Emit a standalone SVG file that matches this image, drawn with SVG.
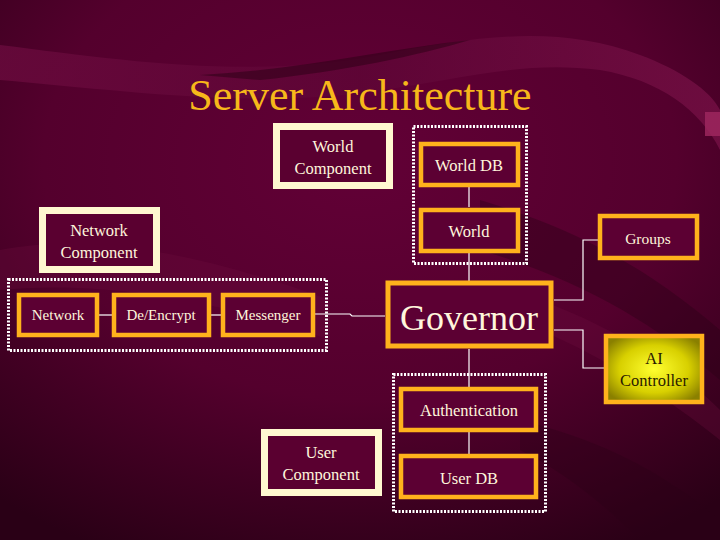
<svg xmlns="http://www.w3.org/2000/svg" width="720" height="540" viewBox="0 0 720 540">
<defs>
<radialGradient id="bg" cx="0.5" cy="0.3" r="0.8">
<stop offset="0" stop-color="#620036"/>
<stop offset="0.55" stop-color="#54002d"/>
<stop offset="1" stop-color="#2a0016"/>
</radialGradient>
<linearGradient id="band1" x1="0" y1="0" x2="1" y2="0">
<stop offset="0" stop-color="#6e0c40"/>
<stop offset="0.5" stop-color="#5e0636"/>
<stop offset="1" stop-color="#7a1248"/>
</linearGradient>
<radialGradient id="ai" cx="0.5" cy="0.5" r="0.6">
<stop offset="0" stop-color="#ffff30"/>
<stop offset="0.6" stop-color="#d8d000"/>
<stop offset="1" stop-color="#8a8000"/>
</radialGradient>
<style>
.comp{fill:#5a0030;stroke:#fff8d0;stroke-width:7}
.box{fill:#5c0033;stroke:#ffb21c;stroke-width:4.5}
.grp{fill:none;stroke:#ffffff;stroke-width:3;stroke-dasharray:2 1.5}
.c{fill:none;stroke:#ffffff;stroke-width:1.2}
</style>
</defs>
<rect width="720" height="540" fill="url(#bg)"/>
<path d="M0 45 C120 60 250 80 380 55 C480 35 560 25 640 55 C680 70 710 90 720 110 L720 150 C700 110 660 80 600 70 C520 60 460 80 380 90 C260 110 120 90 0 80 Z" fill="url(#band1)" opacity="0.7"/>
<path d="M200 75 C300 70 380 50 470 40 C420 55 340 72 260 80 Z" fill="#2a0014" opacity="0.5"/>
<path d="M0 250 C100 230 220 260 330 300 L330 340 C220 300 100 280 0 290 Z" fill="#6e0c40" opacity="0.3"/>
<path d="M480 200 C580 230 650 270 720 330 L720 380 C650 320 580 280 480 250 Z" fill="#2a0016" opacity="0.4"/>
<path d="M520 420 C600 440 660 470 720 520 L720 540 L640 540 C600 500 560 470 520 450 Z" fill="#2a0016" opacity="0.35"/>
<path d="M540 300 C620 330 680 370 720 410 L720 440 C670 400 610 360 540 330 Z" fill="#6e0c40" opacity="0.3"/>
<rect x="705" y="112" width="15" height="24" fill="#a02860" opacity="0.8"/>
<text x="360" y="110" font-family="Liberation Serif" font-size="44" fill="#f7b81a" text-anchor="middle">Server Architecture</text>
<g id="connectors">
<line class="c" x1="469" y1="187" x2="469" y2="207"/>
<line class="c" x1="469" y1="253" x2="469" y2="282"/>
<line class="c" x1="469" y1="349" x2="469" y2="387"/>
<line class="c" x1="469" y1="432" x2="469" y2="454"/>
<line class="c" x1="99" y1="315" x2="112" y2="315"/>
<line class="c" x1="211" y1="315" x2="221" y2="315"/>
<polyline class="c" points="315,314 350,314 352,316 385,316"/>
<polyline class="c" points="554,300 583,300 583,240 598,240"/>
<polyline class="c" points="554,330 583,330 583,368 604,368"/>
</g>
<g id="world-group"><rect class="grp" x="413.5" y="126.5" width="113" height="137"/></g>
<g id="auth-group"><rect class="grp" x="393.5" y="374.5" width="152" height="137"/></g>
<g id="network-group"><rect class="grp" x="8.5" y="279.5" width="318" height="71"/></g>
<g font-family="Liberation Serif" font-size="16.5" fill="#fff6dc" text-anchor="middle">
<g id="world-component"><rect class="comp" x="276.5" y="126.5" width="113" height="59"/><text x="333" y="152">World</text><text x="333" y="174">Component</text></g>
<g id="network-component"><rect class="comp" x="42.5" y="210.5" width="114" height="59"/><text x="99" y="236">Network</text><text x="99" y="258">Component</text></g>
<g id="user-component"><rect class="comp" x="264.5" y="432.5" width="114" height="60"/><text x="321" y="458">User</text><text x="321" y="480">Component</text></g>
<g id="world-db"><rect class="box" x="421" y="144" width="97" height="41"/><text x="469" y="171">World DB</text></g>
<g id="world"><rect class="box" x="421" y="210" width="97" height="41"/><text x="469" y="237">World</text></g>
<g id="network"><rect class="box" x="19" y="295" width="78" height="40"/><text font-size="15" x="58" y="320">Network</text></g>
<g id="de-encrypt"><rect class="box" x="114" y="295" width="95" height="40"/><text font-size="15" x="161" y="320">De/Encrypt</text></g>
<g id="messenger"><rect class="box" x="223" y="295" width="90" height="40"/><text font-size="15" x="268" y="320">Messenger</text></g>
<g id="governor"><rect class="box" style="stroke-width:5" x="388" y="283" width="163" height="63"/><text font-size="36" x="469" y="330">Governor</text></g>
<g id="groups"><rect class="box" x="600" y="216" width="97" height="42"/><text font-size="15.5" x="648" y="244">Groups</text></g>
<g id="ai-controller"><rect x="606" y="336" width="96" height="66" fill="url(#ai)" stroke="#ffb21c" stroke-width="4.5"/><text fill="#2a1a00" x="654" y="364">AI</text><text fill="#2a1a00" x="654" y="386">Controller</text></g>
<g id="authentication"><rect class="box" x="401" y="389" width="135" height="41"/><text x="469" y="416">Authentication</text></g>
<g id="user-db"><rect class="box" x="401" y="456" width="135" height="41"/><text x="469" y="484">User DB</text></g>
</g>
</svg>
